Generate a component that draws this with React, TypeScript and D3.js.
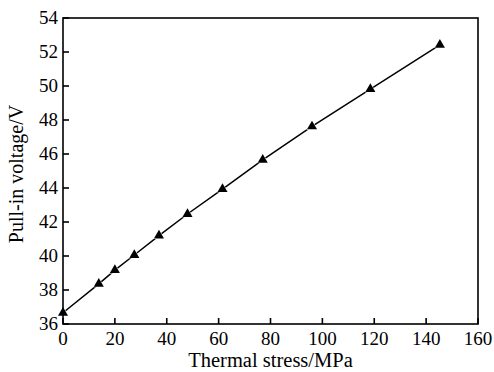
import * as d3 from "d3";

const stress = [0, 13.8, 20, 27.5, 37, 48, 61.5, 77, 96, 118.5, 145.3];
const voltage = [36.66, 38.36, 39.17, 40.06, 41.2, 42.47, 43.94, 45.66, 47.62, 49.82, 52.42];
const xTicks = [0, 20, 40, 60, 80, 100, 120, 140, 160];
const yTicks = [36, 38, 40, 42, 44, 46, 48, 50, 52, 54];

export default function App() {
  const w = 494;
  const h = 372;
  const margin = { top: 18, right: 16, bottom: 48, left: 63 };
  const innerW = w - margin.left - margin.right;
  const innerH = h - margin.top - margin.bottom;

  const x = d3.scaleLinear().domain([0, 160]).range([0, innerW]);
  const y = d3.scaleLinear().domain([36, 54]).range([innerH, 0]);

  const pts = stress.map((s, i) => [s, voltage[i]] as [number, number]);
  const line = d3.line<[number, number]>().x(d => x(d[0])).y(d => y(d[1]));
  const tri = d3.symbol().type(d3.symbolTriangle).size(44)() || "";

  const font = "'Liberation Serif', 'Times New Roman', serif";

  return (
    <svg width={w} height={h} style={{ position: "absolute", left: 0, top: 0, background: "#fff" }} fontFamily={font}>
      <g transform={`translate(${margin.left},${margin.top})`}>
        {/* data line */}
        <path d={line(pts) || ""} fill="none" stroke="#000" strokeWidth={1.5} />
        {pts.map((p, i) => (
          <path key={i} d={tri} transform={`translate(${x(p[0])},${y(p[1])})`} fill="#000" stroke="#fff" strokeWidth={1} paintOrder="stroke" />
        ))}

        {/* frame */}
        <rect x={0} y={0} width={innerW} height={innerH} fill="none" stroke="#000" strokeWidth={1.6} />

        {/* y ticks */}
        {yTicks.map(t => (
          <g key={t} transform={`translate(0,${y(t)})`}>
            <line x1={0} x2={6} stroke="#000" strokeWidth={1.6} />
            <text x={-5} dy="0.34em" textAnchor="end" fontSize={19}>{t}</text>
          </g>
        ))}

        {/* x ticks */}
        {xTicks.map(t => (
          <g key={t} transform={`translate(${x(t)},${innerH})`}>
            <line y1={0} y2={-6} stroke="#000" strokeWidth={1.6} />
            <text y={21} textAnchor="middle" fontSize={19}>{t}</text>
          </g>
        ))}

        <text x={innerW / 2} y={innerH + 43} textAnchor="middle" fontSize={20.5}>Thermal stress/MPa</text>
        <text transform={`translate(${23 - margin.left},${174 - margin.top}) rotate(-90)`} textAnchor="middle" fontSize={20}>Pull-in voltage/V</text>
      </g>
    </svg>
  );
}
